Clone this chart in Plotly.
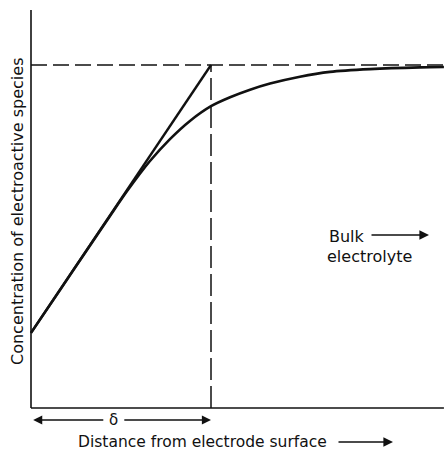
import plotly.graph_objects as go

# ---- data ----
distance = [0.0, 0.161, 0.328, 0.439, 0.539, 0.661, 0.772, 0.883, 1.0, 1.106,
            1.217, 1.328, 1.494, 1.661, 1.883, 2.161, 2.294]
concentration = [0.219, 0.344, 0.474, 0.560, 0.636, 0.720, 0.784, 0.837, 0.880, 0.906,
                 0.928, 0.946, 0.966, 0.980, 0.988, 0.993, 0.994]
surface_conc = 0.219
bulk_conc = 1.0
delta = 1.0
x_end = 2.294
y_top = 1.160

x_label = "Distance from electrode surface"
y_label = "Concentration of electroactive species"
delta_label = "δ"
bulk_label = "Bulk"
electrolyte_label = "electrolyte"

W, H = 444, 453
FONT = "DejaVu Sans"
INK = "#111111"

fig = go.Figure()

# axes lines
fig.add_trace(go.Scatter(x=[0, 0], y=[0, y_top], mode="lines",
                         line=dict(color=INK, width=1.6), hoverinfo="skip"))
fig.add_trace(go.Scatter(x=[0, x_end], y=[0, 0], mode="lines",
                         line=dict(color=INK, width=1.6), hoverinfo="skip"))
# bulk concentration dashed line
fig.add_trace(go.Scatter(x=[0, x_end], y=[bulk_conc, bulk_conc], mode="lines",
                         line=dict(color=INK, width=1.5, dash="16px,6px"), hoverinfo="skip"))
# delta dashed vertical line
fig.add_trace(go.Scatter(x=[delta, delta], y=[0, bulk_conc], mode="lines",
                         line=dict(color=INK, width=1.5, dash="22px,6px"), hoverinfo="skip"))
# linear approximation (Nernst layer)
fig.add_trace(go.Scatter(x=[0, delta], y=[surface_conc, bulk_conc], mode="lines",
                         line=dict(color=INK, width=2.4), hoverinfo="skip"))
# actual concentration profile
fig.add_trace(go.Scatter(x=distance, y=concentration, mode="lines",
                         line=dict(color=INK, width=2.6, shape="spline", smoothing=0.8),
                         hoverinfo="skip"))


def px_x(p):
    return p / W


def px_y(p):
    return 1 - p / H


TXT = dict(xref="paper", yref="paper", showarrow=False, xanchor="center",
           yanchor="middle", font=dict(family=FONT, size=16, color=INK))

ann = []
# delta arrows
y_arrow = -0.035
ann.append(dict(x=0.012, y=y_arrow, ax=0.41, ay=y_arrow, xref="x", yref="y",
                axref="x", ayref="y", text="", showarrow=True, arrowhead=2,
                arrowsize=1.3, arrowwidth=1.4, arrowcolor=INK))
ann.append(dict(x=delta, y=y_arrow, ax=0.51, ay=y_arrow, xref="x", yref="y",
                axref="x", ayref="y", text="", showarrow=True, arrowhead=2,
                arrowsize=1.3, arrowwidth=1.4, arrowcolor=INK))
ann.append(dict(x=0.458, y=y_arrow, xref="x", yref="y", text=delta_label,
                xanchor="center", yanchor="middle",
                showarrow=False, font=dict(family=FONT, size=15, color=INK)))

# x label and arrow
ann.append(dict(TXT, x=px_x(202), y=px_y(442), text=x_label,
                font=dict(family=FONT, size=15.5, color=INK)))
ann.append(dict(x=px_x(393), y=px_y(442), ax=-56, ay=0, xref="paper", yref="paper",
                axref="pixel", ayref="pixel", text="", showarrow=True, arrowhead=2,
                arrowsize=1.2, arrowwidth=1.6, arrowcolor=INK))

# y label
ann.append(dict(TXT, x=px_x(18), y=px_y(212), text=y_label, textangle=-90))

# Bulk electrolyte
ann.append(dict(TXT, x=px_x(327), y=px_y(236), text=bulk_label, xanchor="left"))
ann.append(dict(x=px_x(429), y=px_y(235), ax=-59, ay=0, xref="paper", yref="paper",
                axref="pixel", ayref="pixel", text="", showarrow=True, arrowhead=2,
                arrowsize=1.2, arrowwidth=1.6, arrowcolor=INK))
ann.append(dict(TXT, x=px_x(325), y=px_y(256), text=electrolyte_label, xanchor="left"))

fig.update_layout(
    width=W, height=H, autosize=False,
    margin=dict(l=0, r=0, t=0, b=0, pad=0),
    paper_bgcolor="white", plot_bgcolor="white",
    showlegend=False,
    xaxis=dict(range=[-31 / 180, 413 / 180], visible=False, fixedrange=True),
    yaxis=dict(range=[-45 / 343, 408 / 343], visible=False, fixedrange=True),
    annotations=ann,
)

fig.write_html(
    "out.html",
    config={"displayModeBar": False, "staticPlot": True},
    post_script="document.body.style.margin='0px';document.body.style.overflow='hidden';",
)
